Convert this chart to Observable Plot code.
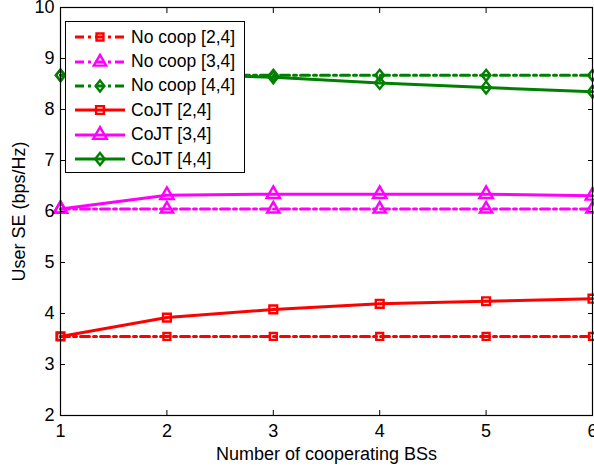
<!DOCTYPE html>
<html>
<head>
<meta charset="utf-8">
<script src="https://cdn.jsdelivr.net/npm/d3@7"></script>
<script src="https://cdn.jsdelivr.net/npm/@observablehq/plot@0.6"></script>
<style>
body { margin: 0; background: #fff; }
#wrap { position: relative; width: 594px; height: 468px; font-family: "Liberation Sans", Arial, sans-serif; }
#legend { position: absolute; left: 65px; top: 21px; width: 180px; height: 152px; border: 1px solid #000; background: #fff; box-sizing: border-box; padding-top: 3px; }
.row { display: flex; align-items: center; height: 24.4px; font-size: 17.5px; }
.row svg { margin-left: 8px; margin-right: 5px; }
</style>
</head>
<body>
<div id="wrap"><div id="legend"></div></div>
<script>
const xs = [1, 2, 3, 4, 5, 6];
const seriesNames = ["No coop [2,4]", "No coop [3,4]", "No coop [4,4]", "CoJT [2,4]", "CoJT [3,4]", "CoJT [4,4]"];
const noCoop24 = [3.55, 3.55, 3.55, 3.55, 3.55, 3.55];
const noCoop34 = [6.05, 6.05, 6.05, 6.05, 6.05, 6.05];
const noCoop44 = [8.67, 8.67, 8.67, 8.67, 8.67, 8.67];
const cojt24 = [3.55, 3.92, 4.08, 4.19, 4.24, 4.29];
const cojt34 = [6.05, 6.32, 6.34, 6.34, 6.34, 6.31];
const cojt44 = [8.67, 8.70, 8.63, 8.52, 8.43, 8.35];
const xTicks = [1, 2, 3, 4, 5, 6];
const yTicks = [2, 3, 4, 5, 6, 7, 8, 9, 10];

const values = [noCoop24, noCoop34, noCoop44, cojt24, cojt34, cojt44];
const colors = ["#ff0000", "#ff00ff", "#008000", "#ff0000", "#ff00ff", "#008000"];
const symbolNames = ["square", "triangle", "diamond", "square", "triangle", "diamond"];
const radii = [3.9, 4.6, 4.4, 4.4, 5.0, 4.8];
const dashed = [true, true, true, false, false, false];
const dashPattern = "9,4,3,4";

// MATLAB-like diamond (width/height ≈ 0.8)
const matDiamond = {
  draw(context, size) {
    const h = Math.sqrt(size) * 1.4;
    const w = h * 0.8;
    context.moveTo(0, -h / 2);
    context.lineTo(w / 2, 0);
    context.lineTo(0, h / 2);
    context.lineTo(-w / 2, 0);
    context.closePath();
  }
};
const symbolMap = {square: d3.symbolSquare, triangle: d3.symbolTriangle, diamond: matDiamond};

const rows = [];
seriesNames.forEach((s, i) => xs.forEach((x, j) => rows.push({series: s, x, y: values[i][j]})));

const marks = [];
seriesNames.forEach((s, i) => {
  const d = rows.filter(r => r.series === s);
  marks.push(Plot.line(d, {x: "x", y: "y", stroke: colors[i], strokeWidth: 3, strokeDasharray: dashed[i] ? dashPattern : null}));
  marks.push(Plot.dot(d, {x: "x", y: "y", symbol: symbolMap[symbolNames[i]], r: radii[i], stroke: colors[i], strokeWidth: 2.4, fill: "none"}));
});

const chart = Plot.plot({
  width: 594, height: 468,
  marginLeft: 60, marginRight: 2, marginTop: 7, marginBottom: 53,
  style: {fontFamily: "Liberation Sans, Arial, sans-serif", fontSize: "18px", color: "#000", overflow: "visible"},
  x: {domain: [1, 6]},
  y: {domain: [2, 10]},
  marks: [
    ...marks,
    Plot.frame({stroke: "#000", strokeWidth: 1.2}),
    Plot.axisX(xTicks, {anchor: "bottom", tickSize: 0, tickPadding: 9, label: "Number of cooperating BSs", labelAnchor: "center", labelArrow: "none", labelOffset: 44, tickFormat: d3.format("d")}),
    Plot.axisY(yTicks, {anchor: "left", tickSize: 0, tickPadding: 6, label: "User SE (bps/Hz)", labelAnchor: "center", labelArrow: "none", labelOffset: 48, tickFormat: d3.format("d")}),
    Plot.axisX(xTicks, {anchor: "bottom", tickSize: 5, dy: -5, text: null, label: null}),
    Plot.axisX(xTicks, {anchor: "top", tickSize: 5, dy: 5, text: null, label: null}),
    Plot.axisY(yTicks, {anchor: "left", tickSize: 5, dx: 5, text: null, label: null}),
    Plot.axisY(yTicks, {anchor: "right", tickSize: 5, dx: -5, text: null, label: null})
  ]
});
document.getElementById("wrap").prepend(chart);

// legend
const legend = d3.select("#legend");
seriesNames.forEach((s, i) => {
  const row = legend.append("div").attr("class", "row");
  const svg = row.append("svg").attr("width", 52).attr("height", 20);
  svg.append("line").attr("x1", 1).attr("x2", 51).attr("y1", 10).attr("y2", 10)
    .attr("stroke", colors[i]).attr("stroke-width", 3)
    .attr("stroke-dasharray", dashed[i] ? dashPattern : null);
  svg.append("path").attr("transform", "translate(26,10)")
    .attr("d", d3.symbol(symbolMap[symbolNames[i]], Math.PI * radii[i] * radii[i])())
    .attr("fill", "none").attr("stroke", colors[i]).attr("stroke-width", 2.4);
  row.append("span").text(s);
});
</script>
</body>
</html>
